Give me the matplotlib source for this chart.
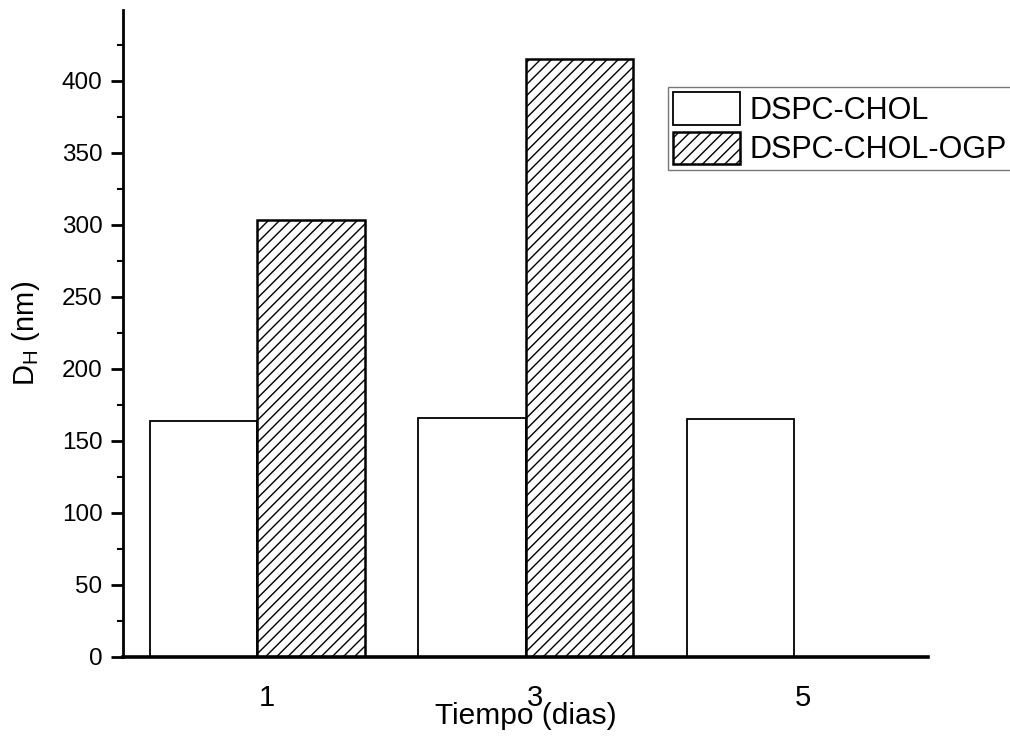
import matplotlib
matplotlib.use("Agg")
import matplotlib.pyplot as plt
from matplotlib.ticker import MultipleLocator
import matplotlib.transforms as mtransforms
import numpy as np

plt.rcParams['font.family'] = ['Liberation Sans', 'DejaVu Sans']
plt.rcParams['hatch.linewidth'] = 1.0

days = [1, 3, 5]
day_labels = ['1', '3', '5']
dspc_chol = [164, 166, 165]
dspc_chol_ogp = [303, 415, 0]
series_names = ['DSPC-CHOL', 'DSPC-CHOL-OGP']

fig = plt.figure(figsize=(10.10, 7.48), dpi=100)
ax = fig.add_axes([0.1221, 0.122, 0.797, 0.8646])

x = np.array(days, dtype=float)
w = 0.8
b1 = ax.bar(x - w / 2, dspc_chol, width=w, facecolor='white', edgecolor='black',
            linewidth=1.3, label=series_names[0])
ogp_x = [xi + w / 2 for xi, v in zip(x, dspc_chol_ogp) if v > 0]
ogp_v = [v for v in dspc_chol_ogp if v > 0]
b2 = ax.bar(ogp_x, ogp_v, width=w, facecolor='white', edgecolor='black',
            linewidth=1.8, hatch='///', label=series_names[1])

ax.set_xlim(0, 6)
ax.set_ylim(0, 449)
ax.set_xticks(days)
ax.set_xticklabels(day_labels)
ax.yaxis.set_major_locator(MultipleLocator(50))
ax.yaxis.set_minor_locator(MultipleLocator(25))

for s in ['top', 'right']:
    ax.spines[s].set_visible(False)
ax.spines['left'].set_linewidth(2.0)
ax.spines['bottom'].set_linewidth(2.6)

ax.tick_params(axis='y', which='major', direction='out', length=8.5, width=2, labelsize=17.5, pad=6.5)
ax.tick_params(axis='y', which='minor', direction='out', length=4, width=1.5)
ax.tick_params(axis='x', which='major', length=0, labelsize=21, pad=19.5)

offset = mtransforms.ScaledTranslation(9 / 100, 0, fig.dpi_scale_trans)
for lab in ax.get_xticklabels():
    lab.set_transform(lab.get_transform() + offset)

ax.set_xlabel('Tiempo (dias)', fontsize=21.5, labelpad=-7)
ax.set_ylabel(r'D$_\mathregular{H}$ (nm)', fontsize=21, labelpad=14)

leg = ax.legend(handles=[b1, b2], loc='upper left', bbox_to_anchor=(668 / 1010, 1 - 87 / 748),
                bbox_transform=fig.transFigure, fontsize=22, frameon=True, fancybox=False,
                edgecolor='#555555', handlelength=2.2, handleheight=1.25, handletextpad=0.3,
                borderpad=0.17, labelspacing=0.2, borderaxespad=0)
leg.get_frame().set_linewidth(1.0)

fig.savefig('out.png', dpi=100)
